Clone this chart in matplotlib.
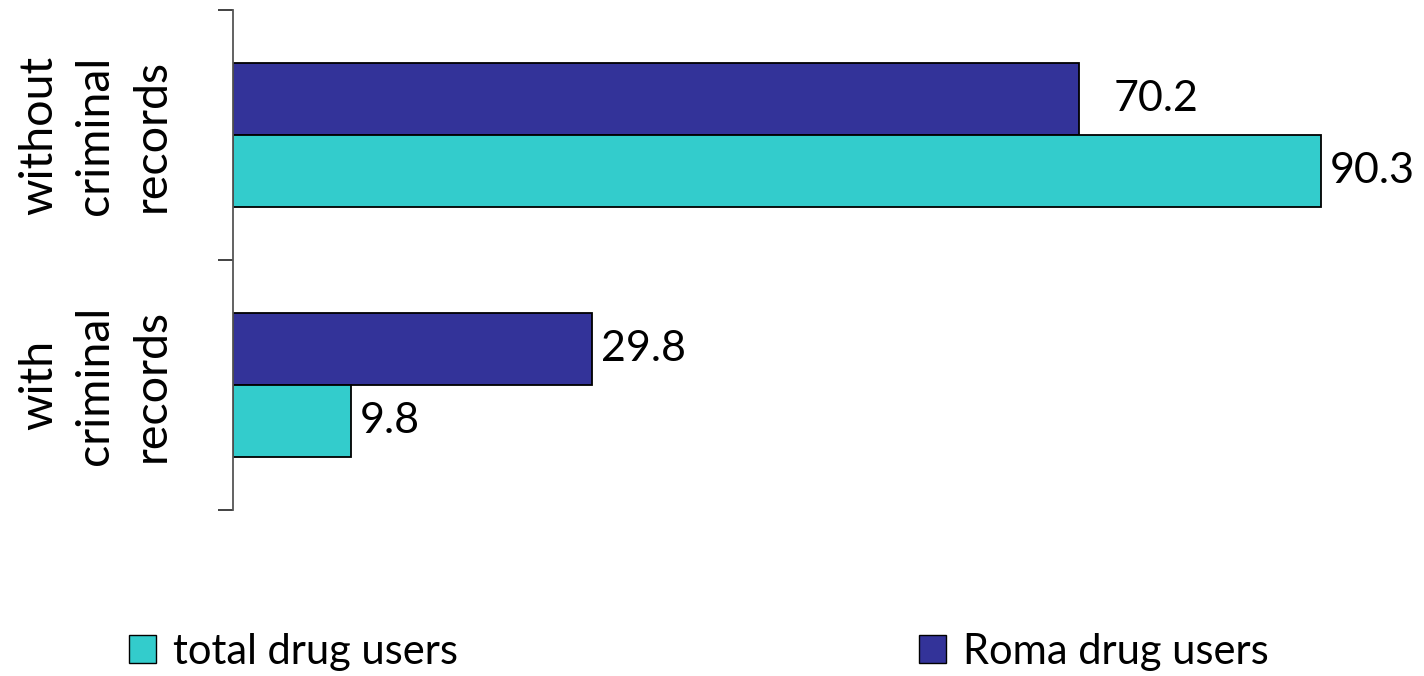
import matplotlib.pyplot as plt
from matplotlib.patches import Patch

plt.rcParams['font.family'] = ['Lato', 'DejaVu Sans']

# --- data ---
categories = ["with\ncriminal\nrecords", "without\ncriminal\nrecords"]
total_users = [9.8, 90.3]
roma_users = [29.8, 70.2]

col_total = "#33CCCC"
col_roma = "#333399"

fig = plt.figure(figsize=(14.24, 6.76), dpi=100)
W, H = 1424, 676
ax = fig.add_axes([233 / W, (H - 510) / H, 1181 / W, 500 / H])

h = 0.288
ypos = range(len(categories))
bars_roma = ax.barh([y + h / 2 for y in ypos], roma_users, height=h,
                    color=col_roma, edgecolor="black", linewidth=1.3)
bars_total = ax.barh([y - h / 2 for y in ypos], total_users, height=h,
                     color=col_total, edgecolor="black", linewidth=1.3)

ax.set_xlim(0, 98)
ax.set_ylim(-0.5, len(categories) - 0.5)

# value labels
for bars, vals in ((bars_roma, roma_users), (bars_total, total_users)):
    for b, v in zip(bars, vals):
        dx = 35 if v == 70.2 else 9
        ax.annotate(f"{v:.1f}", (b.get_width(), b.get_y() + b.get_height() / 2),
                    xytext=(dx * 0.72, 0), textcoords="offset points",
                    ha="left", va="center", fontsize=31)

# axis styling
for s in ("top", "right", "bottom"):
    ax.spines[s].set_visible(False)
ax.spines["left"].set_color("#555555")
ax.spines["left"].set_linewidth(1.3)
ax.set_xticks([])
ax.set_yticks([-0.5, 0.5, 1.5])
ax.set_yticklabels([])
ax.tick_params(axis="y", length=11, width=1.3, color="#333333", direction="out")
ax.set_yticks(list(ypos), minor=True)
ax.set_yticklabels(categories, minor=True, rotation=90, va="center",
                   ha="center", multialignment="center", fontsize=33.5,
                   linespacing=1.42)
ax.tick_params(axis="y", which="minor", length=0, pad=99)

# legend
leg_kw = dict(loc="center left", frameon=False, fontsize=30, handlelength=0.66,
              handleheight=0.66, handletextpad=0.4)
fig.legend(handles=[Patch(facecolor=col_total, edgecolor="black", label="total drug users")],
           bbox_to_anchor=(91 / W, (H - 652) / H), **leg_kw)
fig.legend(handles=[Patch(facecolor=col_roma, edgecolor="black", label="Roma drug users")],
           bbox_to_anchor=(881 / W, (H - 652) / H), **leg_kw)

fig.savefig("out.png", dpi=100)
